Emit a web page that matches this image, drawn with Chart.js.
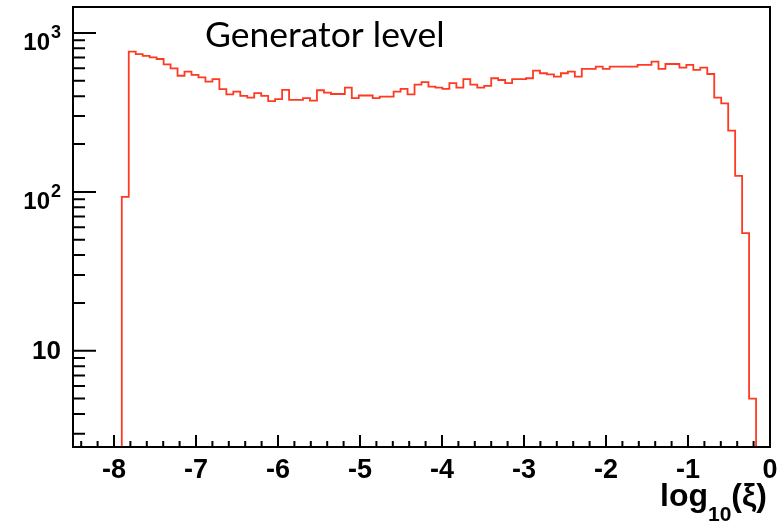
<!DOCTYPE html>
<html>
<head>
<meta charset="utf-8">
<script src="https://cdn.jsdelivr.net/npm/chart.js@4/dist/chart.umd.min.js"></script>
<style>
  html, body { margin: 0; padding: 0; background: #fff; }
  canvas { display: block; }
</style>
</head>
<body>
<canvas id="chartXi" width="780" height="524"></canvas>
<script>
// histogram: 100 bins from -8.5 to 0 in log10(xi)
var binStart = -8.5;
var binWidth = 0.085;
var counts = [
  0, 0, 0, 0, 0, 0, 0, 93, 763, 735,
  717, 703, 686, 635, 599, 538, 571, 545, 526, 494,
  512, 443, 411, 427, 402, 392, 418, 402, 373, 383,
  438, 379, 379, 389, 375, 436, 421, 413, 413, 453,
  389, 404, 404, 389, 398, 398, 427, 445, 411, 473,
  490, 459, 453, 445, 483, 453, 512, 473, 453, 464,
  519, 506, 483, 512, 512, 519, 579, 558, 549, 531,
  558, 571, 531, 594, 594, 614, 594, 614, 614, 614,
  614, 629, 629, 661, 594, 638, 638, 605, 629, 585,
  605, 552, 392, 361, 243, 126, 55, 5, 0, 0
];
var xTickValues = [-8, -7, -6, -5, -4, -3, -2, -1, 0];
var yTickValues = [10, 100, 1000];
var yTickExponents = ['', '2', '3'];   // 10, 10^2, 10^3
var xMin = -8.5, xMax = 0, yMin = 2.48, yMax = 1457;

// empty bins sit below the log axis, so they are drawn off the frame
var points = [];
for (var i = 0; i < counts.length; i++) {
  points.push({x: binStart + i*binWidth, y: counts[i] > 0 ? counts[i] : 1});
}
points.push({x: binStart + counts.length*binWidth, y: counts[counts.length-1] > 0 ? counts[counts.length-1] : 1});

function noPad(s) {
  s.paddingTop = 0; s.paddingBottom = 0; s.paddingLeft = 0; s.paddingRight = 0;
}

var rootFrame = {
  id: 'rootFrame',
  afterDatasetsDraw: function(chart) {
    var ctx = chart.ctx, a = chart.chartArea;
    var xs = chart.scales.x, ys = chart.scales.y;
    ctx.save();
    ctx.strokeStyle = '#000';
    ctx.lineWidth = 2;
    ctx.strokeRect(a.left, a.top, a.right - a.left, a.bottom - a.top);
    ctx.beginPath();
    // x ticks, inward
    for (var k = -42; k <= 0; k++) {
      var v = k*0.2;
      if (v < xMin) continue;
      var px = xs.getPixelForValue(v);
      var len = (k % 5 === 0) ? 12 : 6;
      ctx.moveTo(px, a.bottom);
      ctx.lineTo(px, a.bottom - len);
    }
    // y ticks, inward
    for (var d = 0; d <= 3; d++) {
      for (var m = 1; m <= 9; m++) {
        var val = m*Math.pow(10, d);
        if (val < yMin || val > yMax) continue;
        var py = ys.getPixelForValue(val);
        ctx.moveTo(a.left, py);
        ctx.lineTo(a.left + (m === 1 ? 23 : 12), py);
      }
    }
    ctx.stroke();

    // y labels with real superscripts (ROOT style)
    ctx.fillStyle = '#000';
    ctx.textAlign = 'right';
    yTickValues.forEach(function(tv, j) {
      var py = ys.getPixelForValue(tv);
      if (yTickExponents[j] === '') {
        ctx.textBaseline = 'middle';
        ctx.font = 'bold 26px "Liberation Sans"';
        ctx.fillText('10', 61, py + 1);
      } else {
        ctx.textBaseline = 'alphabetic';
        ctx.font = 'bold 18px "Liberation Sans"';
        ctx.fillText(yTickExponents[j], 61, py + 5);
        ctx.font = 'bold 24px "Liberation Sans"';
        ctx.fillText('10', 50, py + 17);
      }
    });

    // annotation
    ctx.textBaseline = 'alphabetic';
    ctx.textAlign = 'left';
    ctx.font = '35.5px Lato';
    ctx.fillText('Generator level', 205, 47);

    // x axis title log10(xi)
    var x0 = 660, yb = 506;
    ctx.font = 'bold 32px "Liberation Sans"';
    ctx.fillText('log', x0, yb);
    x0 += ctx.measureText('log').width;
    ctx.font = 'bold 21px "Liberation Sans"';
    ctx.fillText('10', x0, yb + 15);
    x0 += ctx.measureText('10').width;
    ctx.font = 'bold 32px "Liberation Sans"';
    ctx.fillText('(\u03BE)', x0, yb);
    ctx.restore();
  }
};

var ctx = document.getElementById('chartXi').getContext('2d');
var chartXi = new Chart(ctx, {
  type: 'line',
  data: {
    datasets: [{
      label: 'generator',
      data: points,
      stepped: 'before',
      borderColor: '#ff3a22',
      borderWidth: 1.8,
      pointRadius: 0,
      fill: false
    }]
  },
  options: {
    responsive: false,
    animation: false,
    layout: {autoPadding: false, padding: {top: 7, right: 10, left: 0, bottom: 0}},
    plugins: {legend: {display: false}, tooltip: {enabled: false}},
    scales: {
      x: {
        type: 'linear',
        min: xMin, max: xMax,
        grid: {display: false, drawTicks: false},
        border: {display: false},
        afterBuildTicks: function(s) { s.ticks = xTickValues.map(function(v){ return {value: v}; }); },
        afterFit: function(s) { s.height = 77; noPad(s); },
        ticks: {
          color: '#000',
          padding: 7,
          maxRotation: 0,
          font: {family: 'Liberation Sans', size: 27, weight: 'bold'},
          callback: function(v) { return String(v); }
        }
      },
      y: {
        type: 'logarithmic',
        min: yMin, max: yMax,
        grid: {display: false, drawTicks: false},
        border: {display: false},
        afterBuildTicks: function(s) { s.ticks = yTickValues.map(function(v){ return {value: v}; }); },
        afterFit: function(s) { s.width = 73; noPad(s); },
        ticks: {display: false}
      }
    }
  },
  plugins: [rootFrame]
});
</script>
</body>
</html>
